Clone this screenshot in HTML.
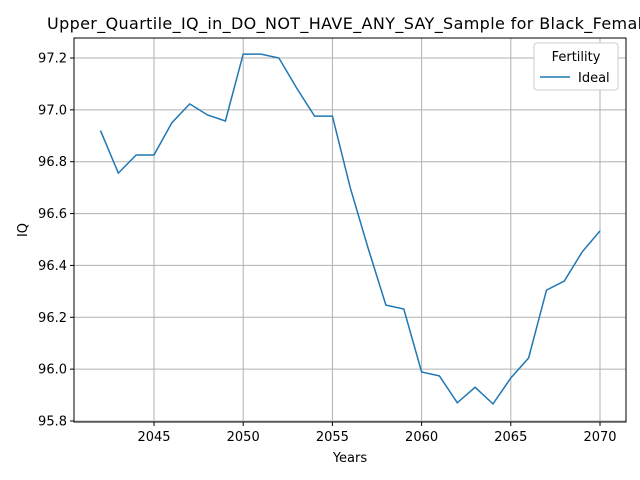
<!DOCTYPE html>
<html><head><meta charset="utf-8"><style>
body{margin:0;background:#fff}
svg{font-family:"DejaVu Sans","Liberation Sans",sans-serif;display:block}
</style></head><body>
<svg id="chart" width="640" height="480" viewBox="0 0 640 480">
<rect width="640" height="480" fill="#fff"/>
<text x="47" y="29" font-size="16" textLength="614" lengthAdjust="spacing" fill="#000">Upper_Quartile_IQ_in_DO_NOT_HAVE_ANY_SAY_Sample for Black_Females</text>
<g id="grid"></g>
<g id="ticks"></g>
<path id="line" fill="none" stroke="#1f77b4" stroke-width="1.5"/>
<rect x="74" y="38" width="552" height="384" fill="none" stroke="#000" stroke-width="1"/>
<text x="350" y="462" font-size="13" text-anchor="middle">Years</text>
<text x="27" y="230" font-size="13" text-anchor="middle" transform="rotate(-90 27 230)">IQ</text>
<g>
<rect x="534" y="43" width="84" height="47" rx="3" fill="#fff" stroke="#ccc"/>
<text x="576" y="61" font-size="13" text-anchor="middle">Fertility</text>
<line x1="540" y1="77" x2="570" y2="77" stroke="#1f77b4" stroke-width="1.5"/>
<text x="578" y="82" font-size="13">Ideal</text>
</g>
</svg>
<script>
const years=[2042,2043,2044,2045,2046,2047,2048,2049,2050,2051,2052,2053,2054,2055,2056,2057,2058,2059,2060,2061,2062,2063,2064,2065,2066,2067,2068,2069,2070];
const iqValues=[96.92,96.756,96.826,96.826,96.95,97.023,96.98,96.957,97.215,97.215,97.2,97.084,96.976,96.976,96.70,96.467,96.247,96.232,95.989,95.974,95.87,95.93,95.866,95.966,96.043,96.305,96.34,96.452,96.533];
const xTicks=[2045,2050,2055,2060,2065,2070];
const yTicks=[95.8,96.0,96.2,96.4,96.6,96.8,97.0,97.2];
const NS="http://www.w3.org/2000/svg";
function xs(v){return 154+(v-2045)*(446/25);}
function ys(v){return 58+(97.2-v)*(363/1.4);}
const grid=document.getElementById('grid'),ticks=document.getElementById('ticks');
function mk(tag,attrs,parent){const e=document.createElementNS(NS,tag);for(const k in attrs)e.setAttribute(k,attrs[k]);parent.appendChild(e);return e;}
xTicks.forEach(t=>{const x=xs(t);
const g=mk('line',{x1:x,x2:x,y1:38,y2:422,stroke:'#b0b0b0','stroke-width':1},grid);


mk('line',{x1:x,x2:x,y1:422,y2:426,stroke:'#000'},ticks);
const l=mk('text',{x:x,y:441,'font-size':13,'text-anchor':'middle'},ticks);l.textContent=t;

});
yTicks.forEach(t=>{const y=ys(t);
const g=mk('line',{x1:74,x2:626,y1:y,y2:y,stroke:'#b0b0b0','stroke-width':1},grid);


mk('line',{x1:70,x2:74,y1:y,y2:y,stroke:'#000'},ticks);
const l=mk('text',{x:67,y:y+4.5,'font-size':13,'text-anchor':'end'},ticks);l.textContent=t.toFixed(1);

});
document.getElementById('line').setAttribute('d',years.map((y,i)=>(i?'L':'M')+xs(y).toFixed(1)+','+ys(iqValues[i]).toFixed(1)).join(' '));
</script>
</body></html>
